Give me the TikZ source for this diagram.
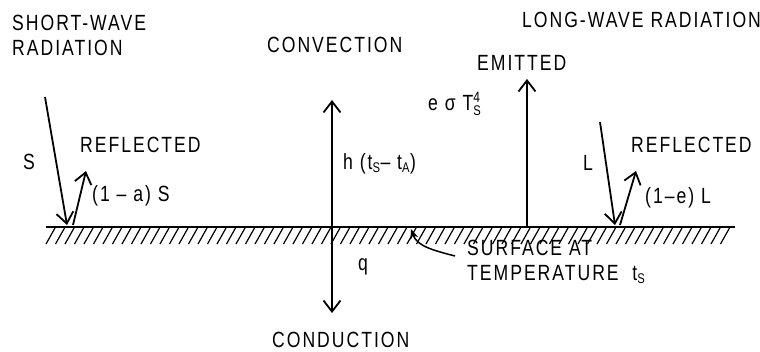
\documentclass[tikz,border=0pt]{standalone}
\usepackage{fontspec}
\setmainfont{Liberation Sans}[LetterSpace=9,FakeStretch=0.80]
\usetikzlibrary{arrows.meta}
\begin{document}
\begin{tikzpicture}[x=1pt,y=-1pt,
  lbl/.style={font=\fontsize{22}{25}\selectfont, inner sep=0pt, anchor=west, align=left},
  barb/.tip={Straight Barb[length=11pt,width=17pt]},
  arr/.style={line width=1.8pt, -barb},
  darr/.style={line width=1.8pt, barb-barb},
  ground/.style={line width=2.6pt},
  hatch/.style={line width=1.2pt},
  leader/.style={line width=1.5pt, -{Stealth[length=10pt,width=8pt]}}]
\useasboundingbox (0,0) rectangle (760,351);
\newcommand{\sbs}[1]{\mbox{\fontsize{14}{14}\selectfont #1}}
% ground and hatching
\coordinate (gL) at (46,227);
\coordinate (gR) at (735,227);
\draw[ground] (gL) -- (gR);
\foreach \x in {46,55.5,...,726} \draw[hatch] (\x,244) -- ++(9,-16);
% labels
\node[lbl] (sw) at (12,35.5) {SHORT-WAVE\\RADIATION};
\node[lbl] (lw) at (522,20) {LONG-WAVE RADIATION};
\node[lbl] (conv) at (267,45) {CONVECTION};
\node[lbl] (emit) at (477,63) {EMITTED};
\node[lbl] (refl1) at (80,145) {REFLECTED};
\node[lbl] (refl2) at (631,145) {REFLECTED};
\node[lbl] (slab) at (23,162) {S};
\node[lbl] (rslab) at (92,196) {(1 -- a) S};
\node[lbl] (llab) at (583,163) {L};
\node[lbl] (rllab) at (645,198) {(1--e) L};
\node[lbl] (hlab) at (343,164) {h (t$_{\sbs{S}}$-- t$_{\sbs{A}}$)};
\node[lbl] (elab) at (428,104) {e σ T$^{\mbox{\fontsize{15}{15}\selectfont 4}}_{\sbs{S}}$};
\node[lbl] (qlab) at (358,267) {q};
\node[lbl] (surf) at (467,261.5) {SURFACE AT\\TEMPERATURE\ \ t$_{\sbs{S}}$};
\node[lbl] (cond) at (272,340) {CONDUCTION};
% arrows
\coordinate (sTop) at (45,97);
\coordinate (sHit) at (67,225);
\draw[arr] (sTop) -- (sHit);
\coordinate (rsBot) at (73,225);
\coordinate (rsTop) at (86,171);
\draw[arr] (rsBot) -- (rsTop);
\coordinate (convTop) at (332,100);
\coordinate (convBot) at (332,313);
\draw[darr] (convBot) -- (convTop);
\coordinate (emBot) at (527,227);
\coordinate (emTop) at (527,79);
\draw[arr] (emBot) -- (emTop);
\coordinate (lTop) at (600,122);
\coordinate (lHit) at (615,225);
\draw[arr] (lTop) -- (lHit);
\coordinate (rlBot) at (620,225);
\coordinate (rlTop) at (636,171);
\draw[arr] (rlBot) -- (rlTop);
\coordinate (ldStart) at (455,256);
\coordinate (ldEnd) at (411,229);
\draw[leader] (ldStart) .. controls (432,250) and (417,246) .. (ldEnd);
\end{tikzpicture}
\end{document}
